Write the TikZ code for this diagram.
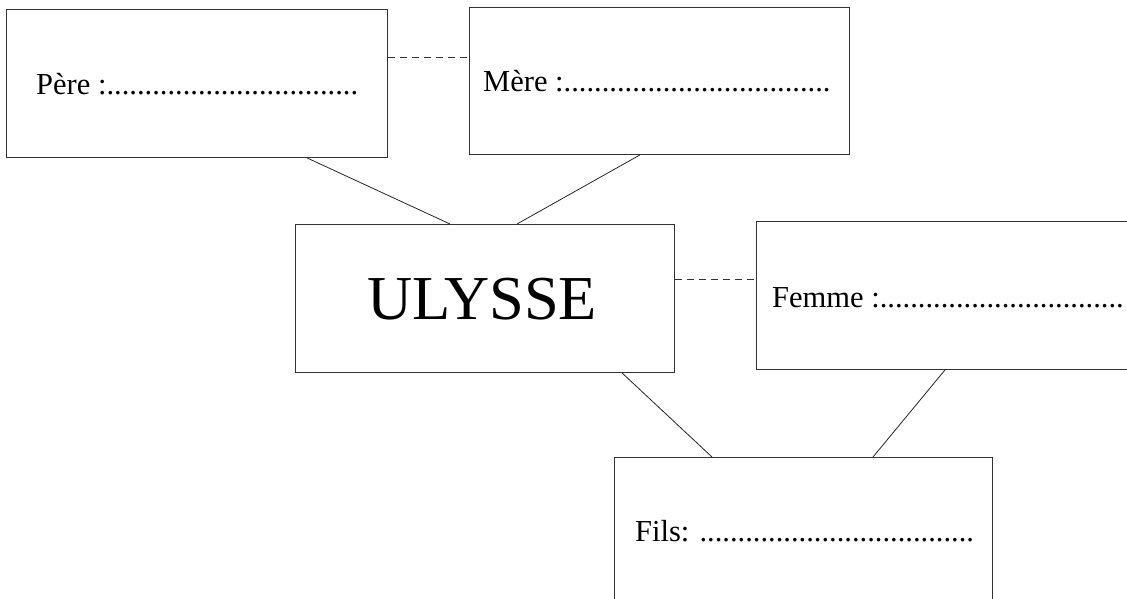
\documentclass[tikz,border=0pt]{standalone}
\usepackage{fontspec}
\setmainfont{Liberation Serif}
\usetikzlibrary{calc}
\begin{document}
\begin{tikzpicture}[x=1pt,y=-1pt,
  box/.style={draw=black!80,line width=0.9pt,rectangle,inner sep=0pt,anchor=north west},
  link/.style={draw=black!85,line width=0.8pt},
  dlink/.style={draw=black!80,line width=0.8pt,dash pattern=on 7pt off 5pt},
  lbl/.style={anchor=base west,inner sep=0pt,font=\fontsize{30.5}{36}\selectfont},
  big/.style={anchor=base west,inner sep=0pt,font=\fontsize{62.5}{72}\selectfont}]
\useasboundingbox (0,0) rectangle (1127,599);
\clip (0,0) rectangle (1127,599);
\fill[white] (0,0) rectangle (1127,599);
% boxes
\node[box,minimum width=381pt,minimum height=148pt] (pere) at (6,9) {};
\node[box,minimum width=380pt,minimum height=147pt] (mere) at (469,7) {};
\node[box,minimum width=379pt,minimum height=148pt] (uly) at (295,224) {};
\node[box,minimum width=400pt,minimum height=148pt] (femme) at (756,221) {};
\node[box,minimum width=378pt,minimum height=170pt] (fils) at (614,457) {};
% texts
\node[lbl] (tpere) at (36,95) {Père :.................................};
\node[lbl] (tmere) at (483,92) {Mère :...................................};
\node[big] (tuly) at (367,319) {ULYSSE};
\node[lbl] (tfemme) at (772,307) {Femme :................................};
\node[lbl] (tfils) at (635,541) {Fils: ....................................};
% connectors
\draw[dlink] ($(pere.north east)+(0,48)$) -- ($(mere.north west)+(0,50)$);
\draw[dlink] ($(uly.north east)+(0,55)$) -- ($(femme.north west)+(0,58)$);
\draw[link] ($(pere.south west)+(301,0)$) -- ($(uly.north west)+(155,0)$);
\draw[link] ($(mere.south west)+(171,0)$) -- ($(uly.north west)+(222,0)$);
\draw[link] ($(uly.south west)+(327,0)$) -- ($(fils.north west)+(98,0)$);
\draw[link] ($(femme.south west)+(189,0)$) -- ($(fils.north west)+(259,0)$);
\end{tikzpicture}
\end{document}
